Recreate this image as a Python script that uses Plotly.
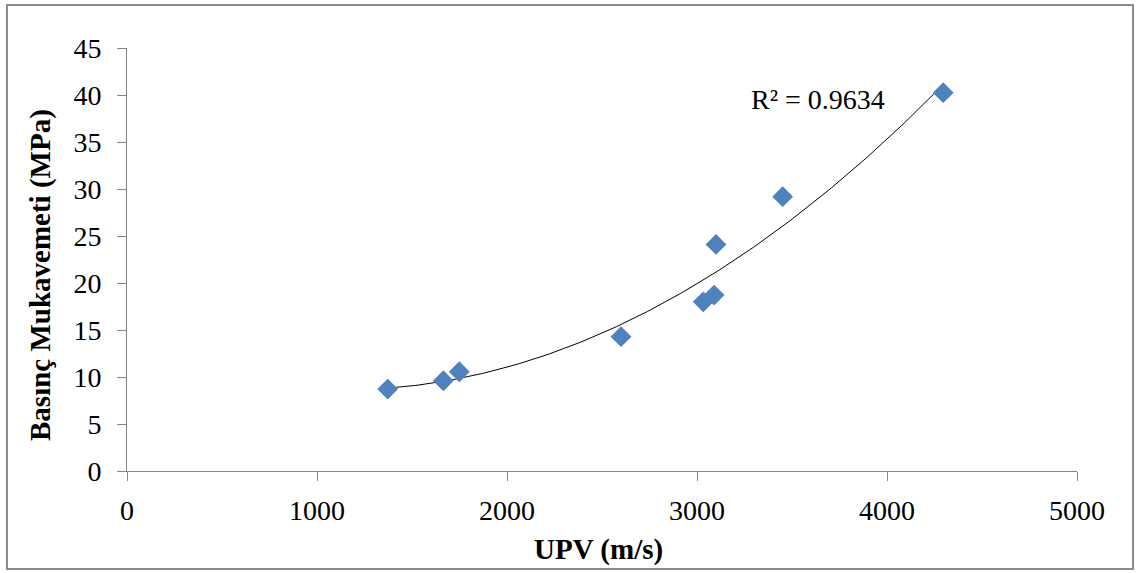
import numpy as np
import plotly.graph_objects as go

upv = [1372, 1665, 1749, 2600, 3033, 3090, 3100, 3451, 4296]
strength = [8.72, 9.6, 10.56, 14.29, 18.0, 18.72, 24.1, 29.18, 40.25]
x_ticks = [0, 1000, 2000, 3000, 4000, 5000]
y_ticks = [0, 5, 10, 15, 20, 25, 30, 35, 40, 45]
r2_text = "R² = 0.9634"

coef = np.polyfit(upv, strength, 2)
xf = np.linspace(min(upv), max(upv), 200)
yf = np.polyval(coef, xf)

FONT = "Liberation Serif, Times New Roman, serif"
fig = go.Figure()
fig.add_trace(go.Scatter(x=xf, y=yf, mode="lines",
                         line=dict(color="black", width=1), hoverinfo="skip"))
fig.add_trace(go.Scatter(x=upv, y=strength, mode="markers",
                         marker=dict(symbol="diamond", size=16, color="#4F81BD",
                                     line=dict(width=0))))

fig.update_layout(
    width=1138, height=573,
    margin=dict(l=127, r=61, t=48, b=102),
    paper_bgcolor="white", plot_bgcolor="white",
    showlegend=False,
    font=dict(family=FONT, size=28, color="black"),
    xaxis=dict(range=[0, 5000], tickvals=x_ticks, showgrid=False, zeroline=False,
               showline=True, linecolor="#868686", linewidth=1,
               ticks="outside", ticklen=9, tickcolor="#868686",
               tickfont=dict(family=FONT, size=28), ticklabelstandoff=5),
    yaxis=dict(range=[0, 45], tickvals=y_ticks, showgrid=False, zeroline=False,
               showline=True, linecolor="#868686", linewidth=1,
               ticks="outside", ticklen=9, tickcolor="#868686",
               tickfont=dict(family=FONT, size=28), ticklabelstandoff=10),
)

fig.add_annotation(xref="paper", yref="paper", x=(598 - 127) / 950, y=(471 - 549) / 423,
                   text="<b>UPV (m/s)</b>", showarrow=False,
                   font=dict(family=FONT, size=29), xanchor="center", yanchor="middle")
fig.add_annotation(xref="paper", yref="paper", x=(40 - 127) / 950, y=(471 - 275) / 423,
                   text="<b>Basınç Mukavemeti (MPa)</b>", showarrow=False, textangle=-90,
                   font=dict(family=FONT, size=29), xanchor="center", yanchor="middle")
fig.add_annotation(x=(818 - 127) / 0.19, y=(471 - 99) / 9.4, text=r2_text, showarrow=False,
                   font=dict(family=FONT, size=28), xanchor="center", yanchor="middle")

fig.add_shape(type="rect", xref="paper", yref="paper",
              x0=(7 - 127) / 950, x1=(1133 - 127) / 950,
              y0=(471 - 569) / 423, y1=(471 - 5) / 423,
              line=dict(color="#8C8C8C", width=2), layer="below")

fig.write_html("out.html", config={"displayModeBar": False},
               post_script="document.body.style.margin='0';document.body.style.overflow='hidden';")
